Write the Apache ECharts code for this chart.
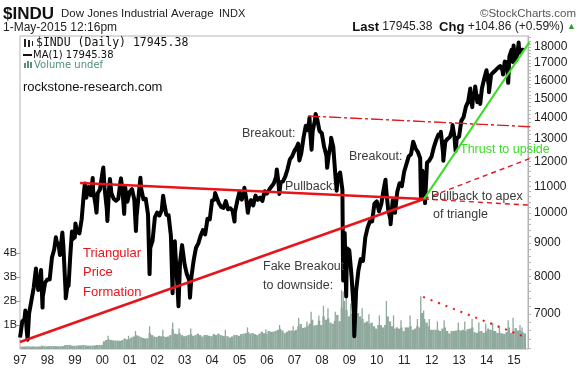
<!DOCTYPE html>
<html><head><meta charset="utf-8">
<script src="https://cdn.jsdelivr.net/npm/echarts@6/dist/echarts.min.js"></script>
<style>html,body{margin:0;padding:0;background:#fff}#c{width:578px;height:369px}</style>
</head><body><div id="c"></div>
<script>
// ---------- DATA ----------
const startYear = 1997;
// Dow Jones Industrial Average month-end closes, Jan 1997 .. Apr 2015
const monthlyCloses = [
 6813,6878,6584,7009,7331,7673,8223,7622,7945,7442,7823,7908,
 7907,8546,8800,9063,8900,8952,8883,7539,7843,8592,9117,9181,
 9359,9307,9786,10789,10560,10971,10655,10829,10337,10729,10878,11497,
 10941,10128,10922,10734,10522,10448,10522,11215,10651,10971,10415,10787,
 10887,10495,9879,10735,10912,10502,10523,9950,8848,9075,9852,10021,
 9920,10106,10404,9946,9925,9243,8737,8664,7592,8397,8896,8342,
 8054,7891,7992,8480,8850,8985,9234,9416,9275,9801,9782,10454,
 10488,10584,10358,10226,10188,10435,10140,10174,10080,10027,10428,10783,
 10490,10766,10504,10193,10467,10275,10641,10482,10569,10440,10806,10718,
 10865,10993,11109,11367,11168,11150,11186,11381,11679,12081,12222,12463,
 12622,12269,12354,13063,13628,13409,13212,13358,13896,13930,13372,13265,
 12650,12266,12263,12820,12638,11350,11378,11544,10851,9325,8829,8776,
 8001,7063,7609,8168,8500,8447,9172,9496,9712,9713,10345,10428,
 10067,10325,10857,11009,10137,9774,10466,10015,10788,11118,11006,11578,
 11892,12226,12320,12811,12570,12414,12143,11614,10913,11955,12046,12218,
 12633,12952,13212,13214,12393,12880,13009,13091,13437,13096,13026,13104,
 13861,14054,14579,14840,15116,14910,15500,14810,15130,15546,16086,16577,
 15699,16322,16458,16581,16717,16827,16563,17098,17043,17391,17828,17823,
 17165,18133,17776,17841
];
// intra-month swing highs / lows
const swingDates = [
 '1997-01-02','1997-03-11','1997-04-11','1997-08-06','1997-10-07','1997-10-27',
 '1998-04-22','1998-06-15','1998-07-17','1998-08-31','1998-10-08','1998-11-23',
 '1999-01-08','1999-05-13','1999-06-10','1999-08-25','1999-10-15',
 '2000-01-14','2000-03-07','2000-04-11','2000-09-06','2000-10-18',
 '2001-03-22','2001-05-21','2001-09-21',
 '2002-03-19','2002-07-23','2002-08-22','2002-10-10','2002-11-27',
 '2003-03-11','2004-02-11','2004-10-25','2005-03-04','2005-04-20',
 '2006-05-10','2006-06-13',
 '2007-02-20','2007-03-05','2007-07-19','2007-08-16','2007-10-09',
 '2008-03-10','2008-05-02','2008-07-15','2008-10-10','2008-11-20',
 '2009-03-06',
 '2010-04-26','2010-07-02',
 '2011-04-29','2011-08-10','2011-10-04',
 '2012-05-01','2012-06-04','2012-10-05','2012-11-15',
 '2013-05-28','2013-06-24','2013-08-02','2013-10-08',
 '2014-02-03','2014-08-07','2014-10-15','2014-12-16','2014-12-26',
 '2015-03-02','2015-03-11','2015-05-01'
];
const swingValues = [
 6442,7085,6391,8259,8178,7161,
 9184,8627,9338,7400,7731,9374,
 9643,11107,10621,11326,10019,
 11750,9731,11287,11310,9975,
 9389,11337,8062,
 10635,7532,9053,7197,8931,
 7416,10737,9708,10941,10012,
 11670,10706,
 12786,12050,14022,12518,14198,
 11740,13058,10827,7882,7449,
 6470,
 11258,9614,
 12876,10604,10362,
 13338,12035,13661,12471,
 15542,14551,15658,14719,
 15340,16333,15855,17068,18103,
 18288,17635,17945
];
// volume (billions of shares), monthly, Jan 1997 .. May 2015
const volumeMonthly = [
 0.10,0.10,0.11,0.11,0.10,0.11,0.10,0.10,0.11,0.14,0.12,0.11,
 0.12,0.12,0.12,0.12,0.11,0.12,0.12,0.16,0.17,0.17,0.14,0.13,
 0.14,0.15,0.15,0.17,0.15,0.14,0.14,0.14,0.15,0.17,0.16,0.17,
 0.32,0.38,0.40,0.38,0.36,0.35,0.35,0.34,0.37,0.44,0.40,0.42,
 0.48,0.52,0.58,0.55,0.50,0.46,0.44,0.45,0.66,0.58,0.52,0.50,
 0.55,0.53,0.53,0.50,0.52,0.58,0.82,0.64,0.62,0.66,0.58,0.53,
 0.55,0.58,0.62,0.55,0.58,0.64,0.58,0.52,0.58,0.58,0.55,0.53,
 0.62,0.58,0.64,0.58,0.55,0.53,0.53,0.48,0.52,0.58,0.58,0.55,
 0.62,0.64,0.66,0.70,0.64,0.66,0.62,0.58,0.64,0.72,0.66,0.64,
 0.75,0.72,0.72,0.75,0.80,0.84,0.77,0.66,0.72,0.77,0.77,0.75,
 0.80,0.94,1.04,0.88,0.90,0.96,1.06,1.22,0.98,1.00,1.18,1.00,
 1.36,1.22,1.28,1.10,1.05,1.18,1.42,1.16,1.72,2.00,1.62,1.36,
 1.46,1.56,1.70,1.50,1.36,1.25,1.10,1.15,1.05,1.10,0.95,0.85,
 1.00,1.00,0.90,1.00,1.36,1.15,0.95,0.85,0.90,0.85,0.90,0.75,
 0.90,0.90,0.95,0.80,0.85,0.95,0.90,1.50,1.25,1.10,0.95,0.80,
 0.80,0.80,0.80,0.75,0.85,0.90,0.75,0.65,0.75,0.75,0.77,0.80,
 0.77,0.80,0.75,0.83,0.85,0.90,0.70,0.67,0.73,0.75,0.67,0.73,
 0.85,0.80,0.77,0.75,0.67,0.67,0.65,0.63,0.70,0.90,0.67,0.75,
 0.87,0.77,0.77,0.70,0.65
];
// single-day volume spikes (billions)
const volumeSpikeDates = [
 '2000-03-17','2000-12-15','2001-03-16','2001-09-21','2002-03-15','2002-07-24','2002-10-18',
 '2003-03-21','2004-06-25','2005-04-15','2005-12-16','2006-06-16','2006-12-15','2007-02-27',
 '2007-06-15','2007-08-10','2007-11-21','2008-01-22','2008-03-21','2008-06-27','2008-09-19',
 '2008-10-10','2008-11-21','2009-01-20','2009-03-20','2009-06-19','2009-09-18','2010-02-05',
 '2010-05-07','2010-08-11','2010-11-19','2011-03-18','2011-06-24','2011-08-08','2011-09-16',
 '2011-11-30','2012-03-16','2012-06-15','2012-12-21','2013-03-15','2013-06-21','2013-09-20',
 '2013-12-20','2014-03-21','2014-06-20','2014-10-15','2014-12-19','2015-03-20','2015-04-17'
];
const volumeSpikeValues = [
 0.55,0.55,0.75,0.95,0.80,1.10,0.85,
 0.85,0.80,0.90,0.82,1.00,0.95,1.30,
 1.15,1.55,1.40,1.80,1.70,1.55,2.45,
 2.40,2.10,1.90,2.00,1.70,1.45,1.40,
 2.00,1.40,1.20,1.40,1.25,2.20,1.60,
 1.25,1.15,1.20,1.10,1.15,1.25,1.10,
 1.05,1.10,0.95,1.20,1.30,1.00,0.90
];
// axis ticks
const priceTicks = [7000,8000,9000,10000,11000,12000,13000,14000,15000,16000,17000,18000];
const priceMinorTicks = [6200,6400,6600,6800,7000,7200,7400,7600,7800,8000,8200,8400,8600,8800,9000,9200,9400,9600,9800,10000,10200,10400,10600,10800,11000,11200,11400,11600,11800,12000,12200,12400,12600,12800,13000,13200,13400,13600,13800,14000,14200,14400,14600,14800,15000,15200,15400,15600,15800,16000,16200,16400,16600,16800,17000,17200,17400,17600,17800,18000,18200,18400,18600];
const volumeTicks = [1,2,3,4];
// annotation lines [decimal year, value]
const triUpper = [[1999.19, 11126],[2011.72, 10514]];
const triUpperExt = [[2011.72, 10514],[2017.34, 10184]];
const triLower = [[1997.0, 6340],[2011.72, 10514]];
const triLowerExt = [[2011.72, 10514],[2017.34, 12955]];
const peakLine = [[2007.5, 14101],[2017.34, 13468]];
const thrustLine = [[2011.72, 10514],[2015.56, 18300]];
const volTrend = [[2011.69, 2.17],[2015.40, 0.5]];

// ---------- BUILD ----------
function dateToYear(s){const p=s.split('-').map(Number);return p[0]+(p[1]-1)/12+(p[2]-1)/365;}
const pricePts=[];
monthlyCloses.forEach((v,i)=>{const y=startYear+Math.floor(i/12),m=i%12;pricePts.push([y+(m+0.97)/12,v]);});
swingDates.forEach((d,i)=>pricePts.push([dateToYear(d),swingValues[i]]));
pricePts.sort((a,b)=>a[0]-b[0]);
const volPts=volumeMonthly.map((v,i)=>{const y=startYear+Math.floor(i/12),m=i%12;return [y+(m+0.5)/12,v];});
const spikePts=volumeSpikeDates.map((d,i)=>[dateToYear(d),volumeSpikeValues[i]]);

const FONT='"Liberation Sans", Arial, sans-serif';
const chart=echarts.init(document.getElementById('c'),null,{renderer:'canvas'});
const red='#e8141c', green='#3ddc28', txt='#3a3a3a', volColor='#8fa99d';
function annLine(data,color,width,type,yIdx){
  return {type:'line',data:data,yAxisIndex:yIdx||0,showSymbol:false,symbol:'none',clip:false,silent:true,z:5,
    lineStyle:{color:color,width:width,type:type||'solid'}};
}
function T(x,y,text,font,fill,align){return {type:'text',x:x,y:y,silent:true,z:100,
  style:{text:text,font:font,fill:fill,textAlign:align||'left',textVerticalAlign:'middle'}};}

const option={
  animation:false,
  backgroundColor:'#fff',
  grid:{left:20,right:50,top:36,bottom:20,show:true,borderColor:'#b3b3b3',borderWidth:1,backgroundColor:'transparent'},
  xAxis:{type:'value',min:1997,max:2015.51,interval:1,
    axisLine:{show:false},axisTick:{show:false},splitLine:{show:false},
    axisLabel:{color:'#222',fontSize:12,fontFamily:FONT,margin:6,showMaxLabel:false,
      formatter:v=>Number.isInteger(v)?String(v).slice(2):''}},
  yAxis:[
    {type:'log',logBase:10,min:6185,max:18714,position:'right',
     axisLine:{show:true,lineStyle:{color:'#b3b3b3'}},
     splitLine:{show:false},minorTick:{show:false},
     axisTick:{show:true,customValues:priceMinorTicks,length:3,lineStyle:{color:'#b8b8b8'}},
     axisLabel:{customValues:priceTicks,color:'#222',fontSize:12,fontFamily:FONT,margin:6,formatter:v=>String(Math.round(v))}},
    {type:'value',min:0,max:13.04,position:'left',
     axisLine:{show:false},splitLine:{show:false},
     axisTick:{show:true,customValues:volumeTicks,length:3,lineStyle:{color:'#999'}},
     axisLabel:{customValues:volumeTicks,color:'#222',fontSize:11,fontFamily:FONT,margin:3,formatter:v=>v+'B'}}
  ],
  series:[
    {type:'bar',data:volPts,yAxisIndex:1,barWidth:2.4,barGap:'-100%',itemStyle:{color:volColor},z:1,silent:true},
    {type:'bar',data:spikePts,yAxisIndex:1,barWidth:1.3,barGap:'-100%',itemStyle:{color:volColor},z:1,silent:true},
    annLine(volTrend,red,2,[2,6],1),
    {type:'line',data:pricePts,yAxisIndex:0,showSymbol:false,symbol:'none',z:3,silent:true,
     lineStyle:{color:'#000',width:4,join:'round'}},
    annLine(triUpper,red,2.5),
    annLine(triLower,red,2.5),
    annLine(triUpperExt,red,1.4,[5,4]),
    annLine(triLowerExt,red,1.4,[5,4]),
    annLine(peakLine,red,1.4,[12,3,3,3]),
    annLine(thrustLine,green,2.2)
  ],
  graphic:[
    T(3,14,'$INDU','bold 17px '+FONT,'#111'),
    T(61,14,'Dow Jones Industrial Average','11.5px '+FONT,'#222'),
    T(219,14,'INDX','11px '+FONT,'#222'),
    T(576,14,'©StockCharts.com','11.5px '+FONT,'#555','right'),
    T(3,28,'1-May-2015 12:16pm','12px '+FONT,'#222'),
    {type:'text',x:576,y:27,silent:true,z:100,style:{
      text:'{b|Last} {n|17945.38}  {b|Chg} {n|+104.86 (+0.59%)} {g|▲}',
      textAlign:'right',textVerticalAlign:'middle',
      rich:{b:{font:'bold 13px '+FONT,fill:'#111'},n:{font:'12px '+FONT,fill:'#222'},g:{font:'9px '+FONT,fill:'#2a9d2a'}}}},
    // legend
    {type:'rect',shape:{x:24,y:39,width:2,height:8},style:{fill:'#222'},silent:true,z:100},
    {type:'rect',shape:{x:28,y:40,width:2,height:7},style:{fill:'#222'},silent:true,z:100},
    {type:'rect',shape:{x:32,y:41,width:1,height:5},style:{fill:'#222'},silent:true,z:100},
    T(36,43,'$INDU (Daily) 17945.38','11.5px "DejaVu Sans Mono", monospace','#111'),
    {type:'rect',shape:{x:23,y:54,width:9,height:2},style:{fill:'#111'},silent:true,z:100},
    T(33,55,'MA(1) 17945.38','10px "DejaVu Sans", sans-serif','#111'),
    {type:'rect',shape:{x:24,y:63,width:2,height:5},style:{fill:'#5e8d7c'},silent:true,z:100},
    {type:'rect',shape:{x:27,y:61,width:2,height:7},style:{fill:'#5e8d7c'},silent:true,z:100},
    {type:'rect',shape:{x:30,y:62,width:2,height:6},style:{fill:'#5e8d7c'},silent:true,z:100},
    T(34,65,'Volume undef','10px "DejaVu Sans", sans-serif','#4f8f78'),
    T(23,87,'rockstone-research.com','13px '+FONT,'#111'),
    // annotations
    T(83,253,'Triangular','13px '+FONT,red),
    T(83,272,'Price','13px '+FONT,red),
    T(83,292,'Formation','13px '+FONT,red),
    T(242,134,'Breakout:','12.5px '+FONT,txt),
    T(285,187,'Pullback:','12.5px '+FONT,txt),
    T(349,157,'Breakout:','12.5px '+FONT,txt),
    T(431,197,'Pullback to apex','12.5px '+FONT,txt),
    T(433,215,'of triangle','12.5px '+FONT,txt),
    T(460,150,'Thrust to upside','12.5px '+FONT,green),
    T(263,267,'Fake Breakout','12.5px '+FONT,txt),
    T(263,286,'to downside:','12.5px '+FONT,txt)
  ]
};
chart.setOption(option);
</script></body></html>
